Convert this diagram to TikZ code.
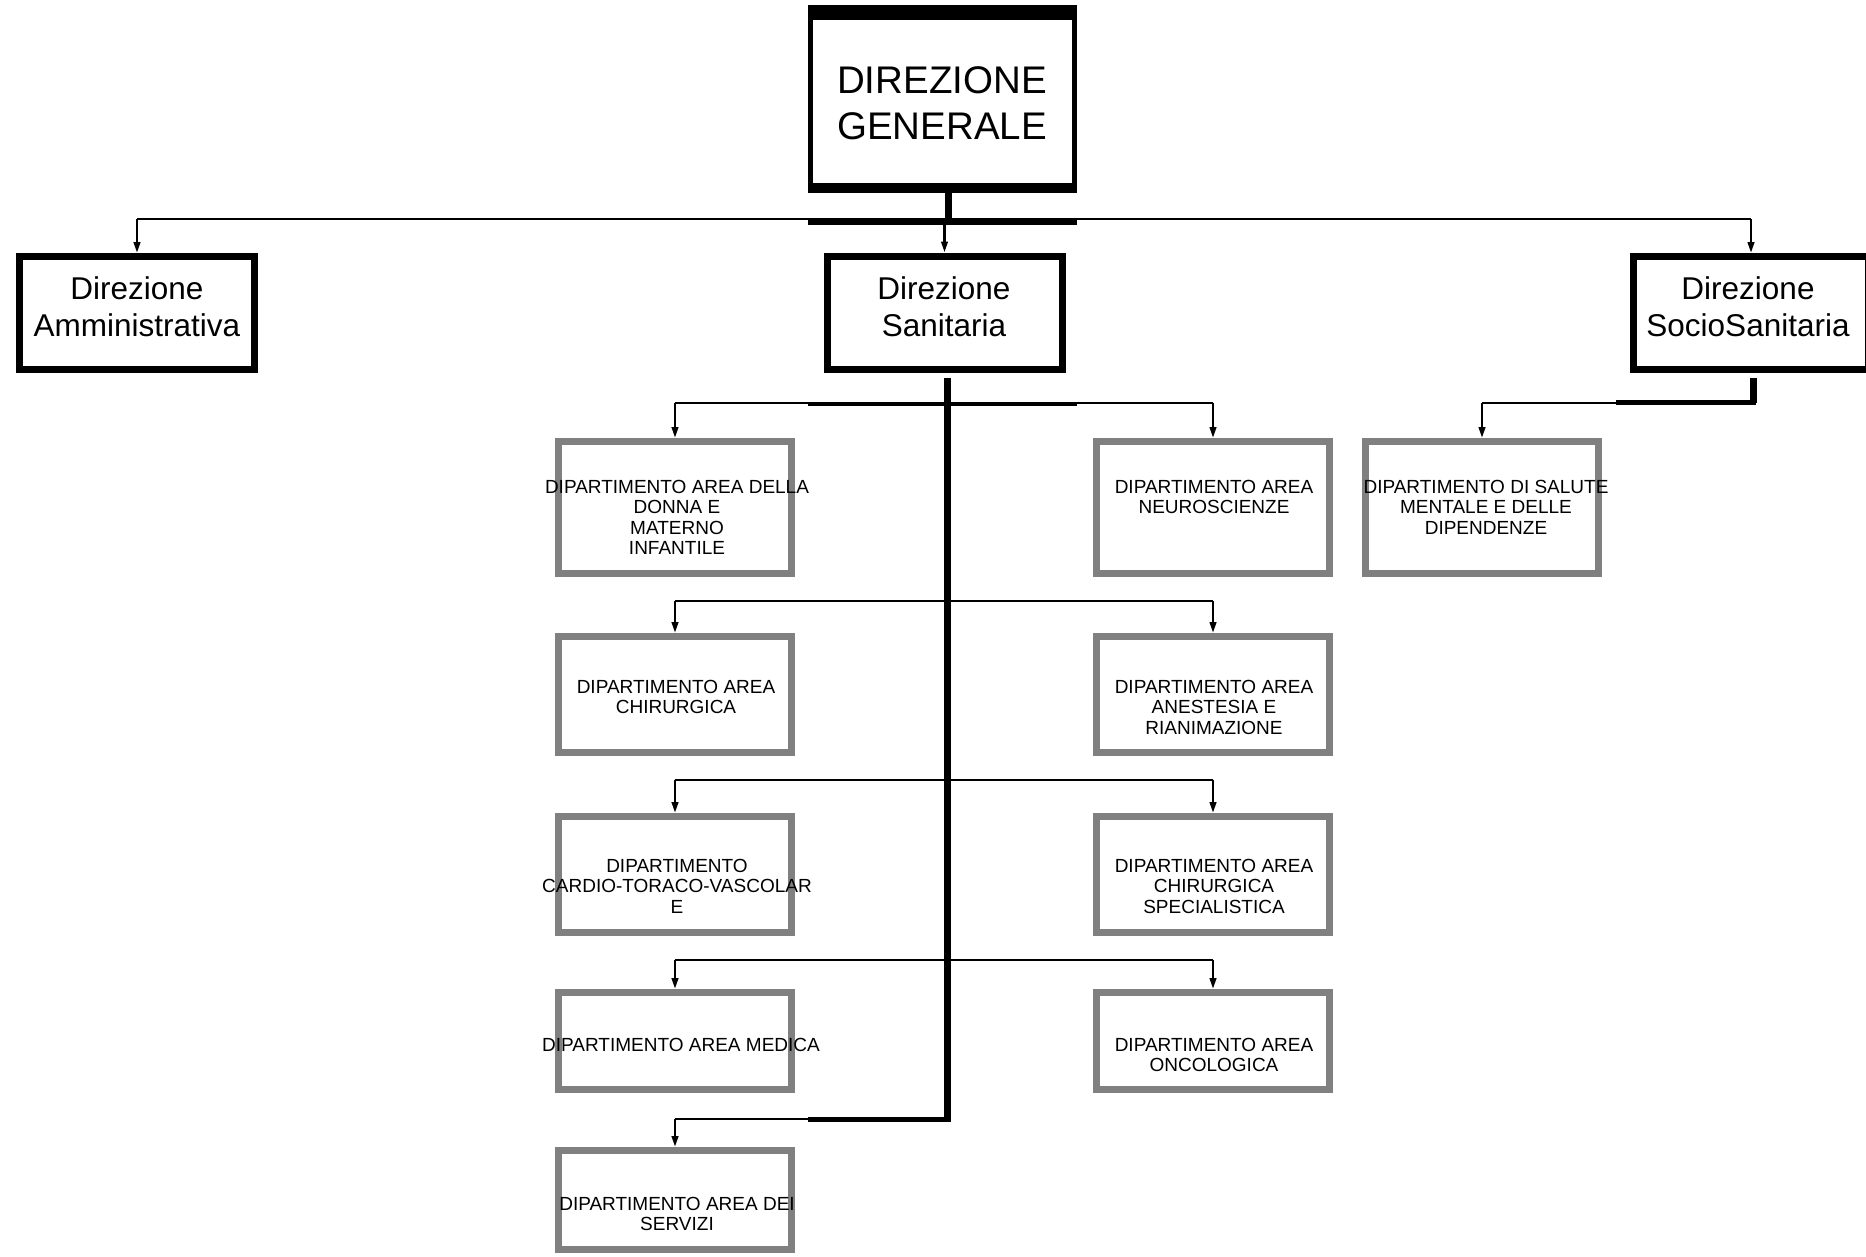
\documentclass[tikz,border=0pt]{standalone}
\usepackage{fontspec}
\setmainfont{Liberation Sans}
\usetikzlibrary{arrows.meta}
\definecolor{deptgray}{RGB}{128,128,128}
\begin{document}
\begin{tikzpicture}[x=1pt,y=-1pt,
  topbox/.style={draw,line width=7pt,minimum width=235pt,minimum height=113pt,inner sep=0pt},
  dept/.style={draw=deptgray,line width=7pt,minimum width=233pt,inner sep=0pt},
  bigtxt/.style={font=\fontsize{31.5}{37}\selectfont,align=center,anchor=north,inner sep=0pt},
  smalltxt/.style={font=\fontsize{19}{20.3}\selectfont,align=center,anchor=north,inner sep=0pt},
  conn/.style={line width=2.5pt},
  arr/.style={line width=2.5pt,-{Triangle[length=11pt,width=6.5pt]}},
  trunk/.style={line width=7pt},
]
\useasboundingbox[fill=white] (0,0) rectangle (1866,1256);

% ---------- top level ----------
\node[draw,line width=5pt,minimum width=264pt,minimum height=183pt,inner sep=0pt] (dg) at (942.5,99) {};
\fill (808,5) rectangle (1077,20);
\fill (808,183) rectangle (1077,193);
\node[font=\fontsize{38.5}{46}\selectfont,align=center,anchor=north,inner sep=0pt] (dgt) at (942,66.5) {DIREZIONE\\GENERALE};

\node[topbox] (amm) at (137,313) {};
\node[bigtxt] (ammt) at (137,276) {Direzione\\Amministrativa};
\node[topbox] (san) at (944.5,312.5) {};
\node[bigtxt] (sant) at (944,276) {Direzione\\Sanitaria};
\node[topbox] (soc) at (1751,313) {};
\node[bigtxt] (soct) at (1748,276) {Direzione\\SocioSanitaria};

% ---------- departments ----------
\node[dept,minimum height=132pt] (l1) at (675,507.5) {};
\node[smalltxt] (l1t) at (677,480) {DIPARTIMENTO AREA DELLA\\DONNA E\\MATERNO\\INFANTILE};
\node[dept,minimum height=132pt] (r1) at (1213,507.5) {};
\node[smalltxt] (r1t) at (1214,480) {DIPARTIMENTO AREA\\NEUROSCIENZE};
\node[dept,minimum height=132pt] (sal) at (1482,507.5) {};
\node[smalltxt] (salt) at (1486,480) {DIPARTIMENTO DI SALUTE\\MENTALE E DELLE\\DIPENDENZE};

\node[dept,minimum height=116pt] (l2) at (675,694.5) {};
\node[smalltxt] (l2t) at (676,680) {DIPARTIMENTO AREA\\CHIRURGICA};
\node[dept,minimum height=116pt] (r2) at (1213,694.5) {};
\node[smalltxt] (r2t) at (1214,680) {DIPARTIMENTO AREA\\ANESTESIA E\\RIANIMAZIONE};

\node[dept,minimum height=116pt] (l3) at (675,874.5) {};
\node[smalltxt] (l3t) at (677,859) {DIPARTIMENTO\\CARDIO-TORACO-VASCOLAR\\E};
\node[dept,minimum height=116pt] (r3) at (1213,874.5) {};
\node[smalltxt] (r3t) at (1214,859) {DIPARTIMENTO AREA\\CHIRURGICA\\SPECIALISTICA};

\node[dept,minimum height=97pt] (l4) at (675,1041) {};
\node[smalltxt] (l4t) at (681,1038) {DIPARTIMENTO AREA MEDICA};
\node[dept,minimum height=97pt] (r4) at (1213,1041) {};
\node[smalltxt] (r4t) at (1214,1038) {DIPARTIMENTO AREA\\ONCOLOGICA};

\node[dept,minimum height=99pt] (l5) at (675,1200) {};
\node[smalltxt] (l5t) at (677,1197) {DIPARTIMENTO AREA DEI\\SERVIZI};

% ---------- junction coordinates ----------
\coordinate (dgstem) at (948,193);
\coordinate (b0) at (948,219);
\coordinate (b0o) at (0,221.5);
\coordinate (sanstem) at (947,378);
\coordinate (trunkend) at (947,1122);
\coordinate (y1) at (0,403);
\coordinate (y1o) at (0,403.5);
\coordinate (y2) at (0,601);
\coordinate (y3) at (0,780);
\coordinate (y4) at (0,960);
\coordinate (y5) at (947,1119);
\coordinate (y5o) at (0,1119.5);
\coordinate (socstem) at (1753,378);
\coordinate (socbus) at (1753,403);
\coordinate (socbuso) at (1756,402.5);
\coordinate (socbusl) at (1616,402.5);

% ---------- top connectors ----------
\draw[trunk] (dgstem) -- (b0);
\draw[conn] (amm.north |- b0) -- (soc.north |- b0);
\draw[line width=7pt] (dg.south west |- b0o) -- (dg.south east |- b0o);
\draw[arr] (amm.north |- b0) -- (amm.north);
\draw[arr] (san.north |- b0) -- (san.north);
\draw[arr] (soc.north |- b0) -- (soc.north);

% ---------- Direzione Sanitaria tree ----------
\draw[trunk] (sanstem) -- (trunkend);
\draw[conn] (l1.north |- y1) -- (r1.north |- y1);
\draw[line width=4pt] (dg.south west |- y1o) -- (dg.south east |- y1o);
\draw[arr] (l1.north |- y1) -- (l1.north);
\draw[arr] (r1.north |- y1) -- (r1.north);

\draw[conn] (l2.north |- y2) -- (r2.north |- y2);
\draw[arr] (l2.north |- y2) -- (l2.north);
\draw[arr] (r2.north |- y2) -- (r2.north);

\draw[conn] (l3.north |- y3) -- (r3.north |- y3);
\draw[arr] (l3.north |- y3) -- (l3.north);
\draw[arr] (r3.north |- y3) -- (r3.north);

\draw[conn] (l4.north |- y4) -- (r4.north |- y4);
\draw[arr] (l4.north |- y4) -- (l4.north);
\draw[arr] (r4.north |- y4) -- (r4.north);

\draw[conn] (y5) -- (l5.north |- y5);
\draw[line width=5pt] (dg.south west |- y5o) -- (y5o -| trunkend);
\draw[arr] (l5.north |- y5) -- (l5.north);

% ---------- Direzione SocioSanitaria ----------
\draw[trunk] (socstem) -- (socbus);
\draw[conn] (socbus) -- (sal.north |- socbus);
\draw[line width=5pt] (socbuso) -- (socbusl);
\draw[arr] (sal.north |- socbus) -- (sal.north);
\end{tikzpicture}
\end{document}
